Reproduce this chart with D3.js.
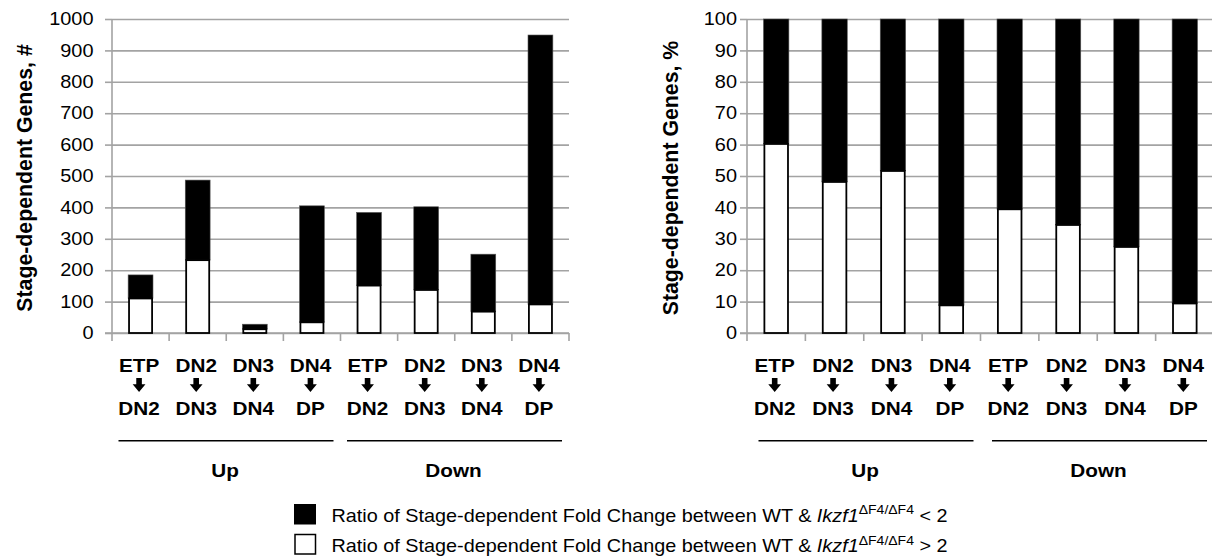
<!DOCTYPE html>
<html>
<head>
<meta charset="utf-8">
<script src="https://cdn.jsdelivr.net/npm/d3@7"></script>
<style>
  html, body { margin: 0; padding: 0; background: #fff; }
  svg { display: block; font-family: "Liberation Sans", Arial, sans-serif; }
</style>
</head>
<body>
<svg id="chart" width="1212" height="559"></svg>
<script>
// Stage transitions: origin stage, arrow, destination stage
const stageFrom = ["ETP", "DN2", "DN3", "DN4", "ETP", "DN2", "DN3", "DN4"];
const stageTo   = ["DN2", "DN3", "DN4", "DP",  "DN2", "DN3", "DN4", "DP"];
const groupNames = ["Up", "Down"];

// Number of stage-dependent genes (total) and those with ratio > 2
const countTotal  = [185, 487, 28, 405, 384, 402, 251, 949];
const countAbove2 = [110, 232, 12, 34, 151, 137, 68, 91];

// Percent of stage-dependent genes with ratio > 2
const pctAbove2 = [60.2, 48.1, 51.6, 8.8, 39.4, 34.4, 27.4, 9.4];

const countTicks = [0, 100, 200, 300, 400, 500, 600, 700, 800, 900, 1000];
const pctTicks   = [0, 10, 20, 30, 40, 50, 60, 70, 80, 90, 100];

const legendText = "Ratio of Stage-dependent Fold Change between WT & ";
const legendGene = "Ikzf1";
const legendSup  = "\u0394F4/\u0394F4";
const legendTails = [" < 2", " > 2"];

const SX = 1.12;           // horizontal text stretch
const GRID = "#a3a3a3";
const svg = d3.select("#chart");

function stretchedText(g, x, y, str, opts = {}) {
  return g.append("text")
    .attr("transform", `translate(${x},${y}) scale(${SX},1)`)
    .attr("text-anchor", opts.anchor || "middle")
    .attr("font-size", opts.size || 18.5)
    .attr("font-weight", opts.weight || "bold")
    .attr("fill", "#000")
    .text(str);
}

function drawPanel(cfg) {
  const g = svg.append("g");
  const idx = d3.range(stageFrom.length);
  const x = d3.scaleBand().domain(idx).range([cfg.x0, cfg.x1])
    .paddingInner(0.565).paddingOuter(0.2825);
  const y = d3.scaleLinear().domain([0, cfg.max]).range([333, 19]);
  const step = x.step();
  const bandStart = i => cfg.x0 + i * step;

  // horizontal gridlines
  const grid = g.append("g").attr("transform", `translate(${cfg.x0},0)`)
    .call(d3.axisLeft(y).tickValues(cfg.ticks).tickSize(-(cfg.gridEnd - cfg.x0)).tickFormat(""));
  grid.select(".domain").remove();
  grid.selectAll("line").attr("stroke", GRID).attr("stroke-width", 1.6);

  // y axis with ticks and labels
  const ya = g.append("g").attr("transform", `translate(${cfg.x0},0)`)
    .call(d3.axisLeft(y).tickValues(cfg.ticks).tickFormat(d3.format("d"))
      .tickSize(7).tickPadding(cfg.labelGap));
  ya.select(".domain").attr("stroke", GRID).attr("stroke-width", 1.6)
    .attr("d", `M0,${y(cfg.max)}V${y(0)}`);
  ya.selectAll(".tick line").attr("stroke", GRID).attr("stroke-width", 1.6);
  ya.selectAll(".tick text")
    .attr("font-size", 17.8).attr("font-family", "Liberation Sans, Arial, sans-serif")
    .attr("fill", "#000")
    .each(function () {
      const t = d3.select(this);
      const xx = +t.attr("x");
      t.attr("x", xx / SX).attr("transform", `scale(${SX},1)`);
    });

  // x axis baseline and boundary ticks
  const xa = g.append("g").attr("transform", `translate(0,${y(0)})`)
    .call(d3.axisBottom(x).tickSize(0).tickFormat(""));
  xa.select(".domain").attr("stroke", GRID).attr("stroke-width", 1.6)
    .attr("d", `M${cfg.x0 - 7},0H${cfg.gridEnd}`);
  xa.selectAll(".tick").remove();
  g.append("g").selectAll("line").data(d3.range(stageFrom.length + 1)).join("line")
    .attr("x1", i => bandStart(i)).attr("x2", i => bandStart(i))
    .attr("y1", y(0)).attr("y2", y(0) + 8)
    .attr("stroke", GRID).attr("stroke-width", 1.6);

  // stacked bars: black (ratio < 2) above white (ratio > 2)
  const bw = x.bandwidth();
  g.append("g").selectAll("rect").data(idx).join("rect")
    .attr("x", i => x(i)).attr("width", bw)
    .attr("y", i => y(cfg.total[i])).attr("height", i => y(cfg.lower[i]) - y(cfg.total[i]))
    .attr("fill", "#000").attr("stroke", "#555").attr("stroke-width", 0.6);
  g.append("g").selectAll("rect").data(idx).join("rect")
    .attr("x", i => x(i) + 0.9).attr("width", bw - 1.8)
    .attr("y", i => y(cfg.lower[i])).attr("height", i => y(0) - y(cfg.lower[i]))
    .attr("fill", "#fff").attr("stroke", "#000").attr("stroke-width", 1.8);

  // category labels
  idx.forEach(i => {
    const cx = x(i) + bw / 2 - 1.5;
    stretchedText(g, cx, 371.5, stageFrom[i]);
    stretchedText(g, cx, 415, stageTo[i]);
    // thick down arrow
    g.append("path")
      .attr("transform", `translate(${cx},378)`)
      .attr("d", "M-2.8,0H2.8V6.3H6.4L0,14L-6.4,6.3H-2.8Z")
      .attr("fill", "#000");
  });

  // group brackets and names
  groupNames.forEach((name, gi) => {
    const s = bandStart(gi * 4), e = bandStart(gi * 4 + 4);
    const ls = s + cfg.inset, le = Math.min(e - 7, cfg.lineMax);
    g.append("line").attr("x1", ls).attr("x2", le).attr("y1", 440.7).attr("y2", 440.7)
      .attr("stroke", "#000").attr("stroke-width", 1.6);
    stretchedText(g, (ls + le) / 2 - 1, 477, name);
  });

  // y axis title
  g.append("text")
    .attr("transform", `translate(${cfg.titleX},178) rotate(-90)`)
    .attr("text-anchor", "middle").attr("font-weight", "bold")
    .attr("font-size", 21.3).attr("fill", "#000")
    .text(cfg.title);
}

drawPanel({
  x0: 112, x1: 569, gridEnd: 569, max: 1000, ticks: countTicks,
  total: countTotal, lower: countAbove2, labelGap: 11.5,
  inset: 6.5, lineMax: 1212, titleX: 32, title: "Stage-dependent Genes, #"
});

drawPanel({
  x0: 747, x1: 1214, gridEnd: 1214, max: 100, ticks: pctTicks,
  total: pctAbove2.map(() => 100), lower: pctAbove2, labelGap: 3,
  inset: 11.5, lineMax: 1207, titleX: 678, title: "Stage-dependent Genes, %"
});

// legend
const lg = svg.append("g");
[0, 1].forEach(k => {
  const top = k === 0 ? 504 : 534.5;
  lg.append("rect").attr("x", k === 0 ? 294 : 295).attr("y", top)
    .attr("width", k === 0 ? 22 : 20.5).attr("height", k === 0 ? 20.5 : 19.5)
    .attr("fill", k === 0 ? "#000" : "#fff").attr("stroke", "#000").attr("stroke-width", k === 0 ? 0 : 1.5);
  const base = k === 0 ? 521.7 : 552.3;
  const t = lg.append("text")
    .attr("transform", `translate(331.5,${base}) scale(${SX},1)`)
    .attr("font-size", 17.7).attr("fill", "#000");
  t.append("tspan").text(legendText);
  t.append("tspan").attr("font-style", "italic").text(legendGene);
  t.append("tspan").attr("font-size", 12.5).attr("dy", -7.5).text(legendSup);
  t.append("tspan").attr("dy", 7.5).text(legendTails[k]);
});
</script>
</body>
</html>
